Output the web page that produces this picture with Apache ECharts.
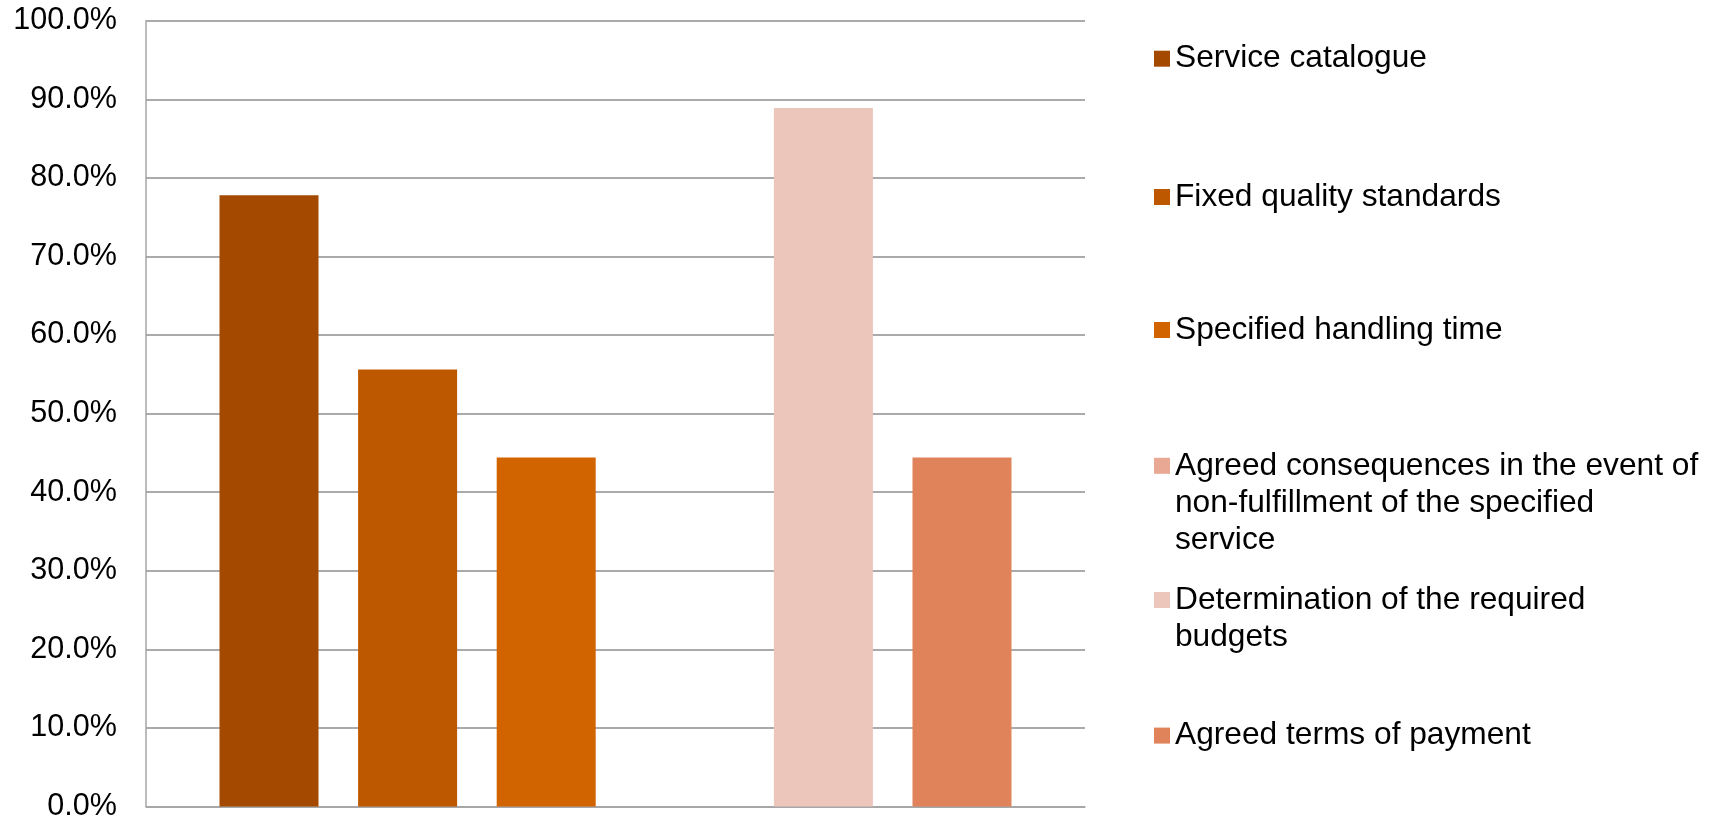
<!DOCTYPE html>
<html>
<head>
<meta charset="utf-8">
<script src="https://cdn.jsdelivr.net/npm/echarts@6/dist/echarts.min.js"></script>
<style>
  html, body { margin: 0; padding: 0; background: #ffffff; }
  #chart { width: 1719px; height: 822px; }
</style>
</head>
<body>
<div id="chart"></div>
<script>
// Share of respondents with each contract element (one category, six series)
const categories = [''];
const seriesNames = [
  'Service catalogue',
  'Fixed quality standards',
  'Specified handling time',
  'Agreed consequences in the event of non-fulfillment of the specified service',
  'Determination of the required budgets',
  'Agreed terms of payment'
];
// Legend text, wrapped as shown next to the plot
const legendLines = [
  ['Service catalogue'],
  ['Fixed quality standards'],
  ['Specified handling time'],
  ['Agreed consequences in the event of', 'non-fulfillment of the specified', 'service'],
  ['Determination of the required', 'budgets'],
  ['Agreed terms of payment']
];
const seriesValues = [77.8, 55.6, 44.4, 0, 88.9, 44.4];
const yTicks = [0, 10, 20, 30, 40, 50, 60, 70, 80, 90, 100];

const colors = ['#A34A00', '#BE5800', '#D26400', '#E8A894', '#EDC6BB', '#E0835A'];

const chart = echarts.init(document.getElementById('chart'), null, { renderer: 'canvas' });

// One legend block per series. The legend centres its text on the marker, so
// wrapped entries get blank lines in front to keep the first line beside it.
const LINE_H = 37;
const ICON = 16;
const markerCenters = [58.7, 197, 330, 465.8, 600, 735.6];
const legends = seriesNames.map((name, i) => {
  const n = legendLines[i].length;
  const blockH = (2 * n - 1) * LINE_H;
  const text = new Array(n - 1).fill('').concat(legendLines[i]).join('\n');
  return {
    orient: 'vertical',
    left: 1154,
    top: markerCenters[i] - Math.max(blockH, ICON) / 2,
    padding: 0,
    itemWidth: ICON,
    itemHeight: ICON,
    icon: 'rect',
    selectedMode: false,
    data: [name],
    formatter: () => text,
    textStyle: {
      fontFamily: "'Liberation Sans', Arial, sans-serif",
      fontSize: 31.7,
      lineHeight: LINE_H,
      color: '#000000'
    }
  };
});

const option = {
  animation: false,
  backgroundColor: '#ffffff',
  color: colors,
  legend: legends,
  grid: {
    left: 146,
    right: 634,
    top: 20.7,
    bottom: 15.3,
    containLabel: false
  },
  xAxis: {
    type: 'category',
    data: categories,
    axisLine: { show: true, lineStyle: { color: '#a6a6a6', width: 1.5 } },
    axisTick: { show: false },
    axisLabel: { show: false },
    splitLine: { show: false }
  },
  yAxis: {
    type: 'value',
    min: yTicks[0],
    max: yTicks[yTicks.length - 1],
    interval: yTicks[1] - yTicks[0],
    axisLine: { show: true, lineStyle: { color: '#a6a6a6', width: 1.5 } },
    axisTick: { show: false },
    axisLabel: {
      formatter: v => v.toFixed(1) + '%',
      fontFamily: "'Liberation Sans', Arial, sans-serif",
      fontSize: 30.6,
      color: '#000000',
      margin: 29
    },
    splitLine: { show: true, lineStyle: { color: '#8e8e8e', width: 1.5 } }
  },
  series: seriesNames.map((name, i) => ({
    name: name,
    type: 'bar',
    data: [seriesValues[i]],
    barWidth: 99,
    barGap: '40%',
    itemStyle: { color: colors[i] }
  }))
};

chart.setOption(option);
</script>
</body>
</html>
